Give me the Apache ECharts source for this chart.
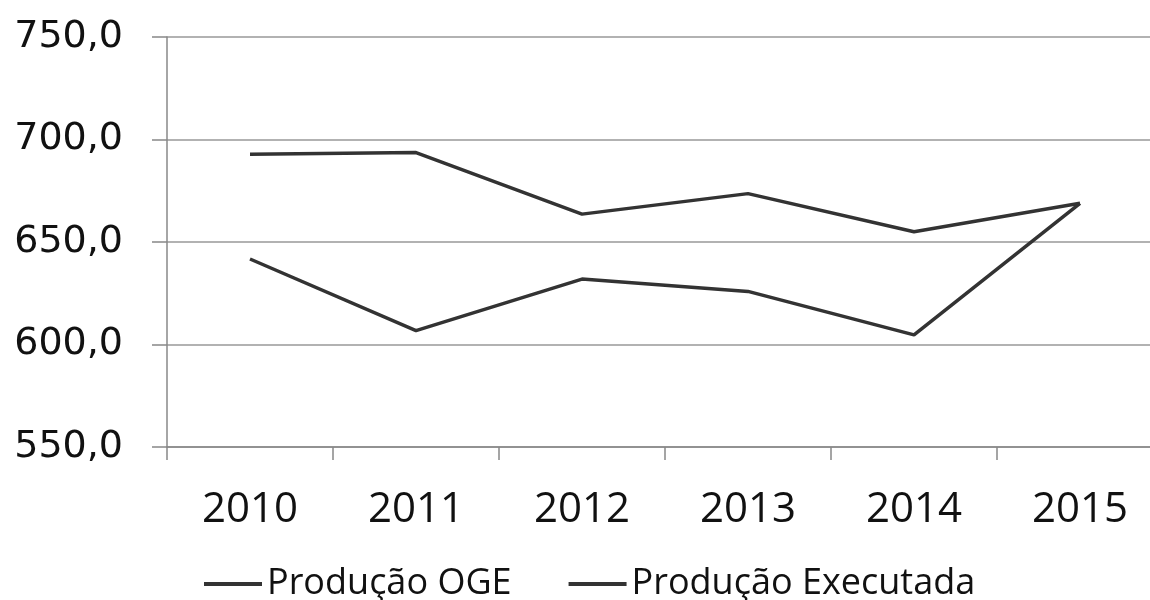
<!DOCTYPE html>
<html>
<head>
<meta charset="utf-8">
<script src="https://cdn.jsdelivr.net/npm/echarts@6/dist/echarts.min.js"></script>
<style>html,body{margin:0;padding:0;background:#fff;overflow:hidden;width:1150px;height:600px;}#c{width:1166px;height:600px;}</style>
</head>
<body>
<div id="c"></div>
<script>
const years = ['2010', '2011', '2012', '2013', '2014', '2015'];
const producaoOGE = [692.8, 693.6, 663.6, 673.6, 655.0, 668.9];
const producaoExecutada = [641.7, 606.8, 631.9, 625.9, 604.7, 668.9];
const seriesNames = ['Produção OGE', 'Produção Executada'];

const chart = echarts.init(document.getElementById('c'), null, {renderer: 'canvas'});
chart.setOption({
  animation: false,
  backgroundColor: '#fff',
  grid: {left: 167, right: 3, top: 37, bottom: 153, containLabel: false},
  legend: {
    data: seriesNames,
    left: 199,
    top: 561,
    icon: 'rect',
    itemWidth: 58,
    itemHeight: 4,
    itemGap: 57,
    textStyle: {fontFamily: 'Open Sans', fontSize: 36, color: '#111'}
  },
  xAxis: {
    type: 'category',
    data: years,
    boundaryGap: true,
    axisLine: {lineStyle: {color: '#888', width: 1.5}},
    axisTick: {show: true, length: 13, alignWithLabel: false, lineStyle: {color: '#888', width: 1.5}},
    axisLabel: {margin: 42, fontFamily: 'Open Sans', fontSize: 42, color: '#111'},
    splitLine: {show: false}
  },
  yAxis: {
    type: 'value',
    min: 550, max: 750, interval: 50,
    axisLine: {show: true, lineStyle: {color: '#888', width: 1.5}},
    axisTick: {show: true, inside: false, length: 15, lineStyle: {color: '#888', width: 1.5}},
    axisLabel: {
      margin: 44, fontFamily: 'DejaVu Sans', fontSize: 38, color: '#111',
      formatter: v => v.toFixed(1).replace('.', ',')
    },
    splitLine: {show: true, lineStyle: {color: '#999', width: 1.5}}
  },
  series: [
    {name: seriesNames[0], type: 'line', data: producaoOGE, showSymbol: false, symbol: 'none',
     lineStyle: {color: '#333', width: 3.5}, itemStyle: {color: '#333'}},
    {name: seriesNames[1], type: 'line', data: producaoExecutada, showSymbol: false, symbol: 'none',
     lineStyle: {color: '#333', width: 3.5}, itemStyle: {color: '#333'}}
  ]
});
</script>
</body>
</html>
